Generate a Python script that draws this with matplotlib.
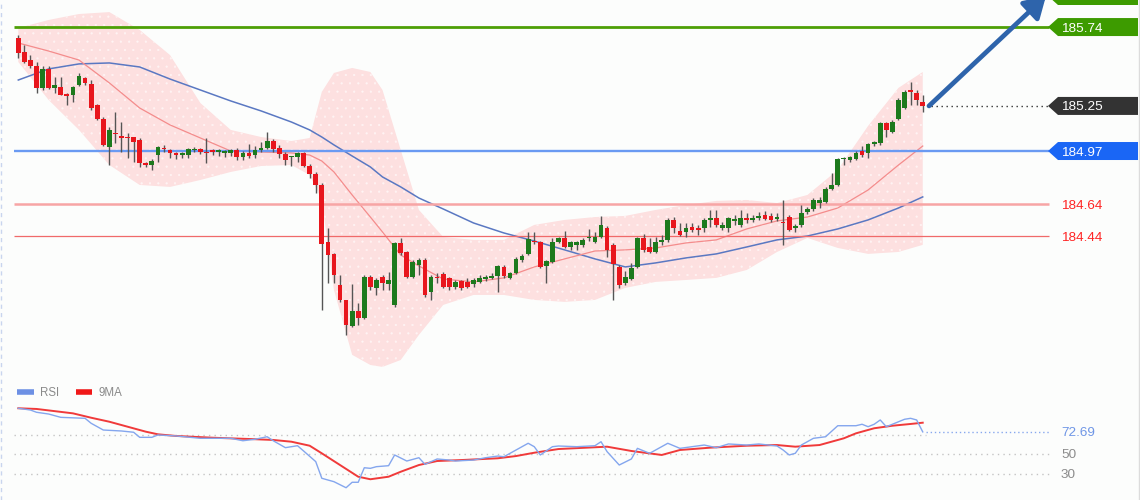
import matplotlib
matplotlib.use("Agg")
import matplotlib.pyplot as plt
from matplotlib.patches import Polygon
from matplotlib.lines import Line2D
import numpy as np

plt.rcParams['font.family'] = ['Liberation Sans', 'DejaVu Sans']
plt.rcParams['hatch.linewidth'] = 0.35

# ---------------- data ----------------
opens = [185.672, 185.585, 185.535, 185.498, 185.362, 185.480, 185.362, 185.368, 185.324, 185.318,
         185.380, 185.424, 185.386, 185.256, 185.169, 184.995, 185.082, 185.063, 185.057, 185.057,
         185.039, 184.896, 184.883, 184.945, 184.989, 184.977, 184.958, 184.945, 184.945, 184.977,
         184.983, 184.964, 184.977, 184.964, 184.958, 184.958, 184.977, 184.933, 184.958, 184.945,
         184.977, 184.989, 185.032, 184.989, 184.952, 184.933, 184.933, 184.958, 184.877, 184.828,
         184.759, 184.405, 184.331, 184.138, 184.045, 183.884, 183.977, 183.933, 184.188, 184.120,
         184.188, 184.144, 184.014, 184.399, 184.343, 184.188, 184.262, 184.293, 184.095, 184.188,
         184.206, 184.182, 184.126, 184.163, 184.157, 184.144, 184.157, 184.175, 184.182, 184.194,
         184.250, 184.182, 184.213, 184.293, 184.331, 184.411, 184.405, 184.256, 184.281, 184.405,
         184.430, 184.374, 184.387, 184.387, 184.430, 184.405, 184.436, 184.492, 184.387, 184.250,
         184.151, 184.175, 184.250, 184.430, 184.374, 184.343, 184.405, 184.418, 184.542, 184.474,
         184.467, 184.498, 184.492, 184.492, 184.542, 184.554, 184.492, 184.492, 184.536, 184.511,
         184.554, 184.542, 184.554, 184.573, 184.567, 184.548, 184.529, 184.560, 184.492, 184.511,
         184.592, 184.610, 184.647, 184.654, 184.734, 184.759, 184.921, 184.914, 184.921, 184.970,
         184.958, 185.014, 185.020, 185.144, 185.088, 185.169, 185.237, 185.349, 185.331, 185.275]
highs = [185.691, 185.629, 185.566, 185.523, 185.498, 185.498, 185.430, 185.430, 185.331, 185.374,
         185.455, 185.430, 185.411, 185.262, 185.181, 185.119, 185.212, 185.150, 185.082, 185.057,
         185.051, 184.902, 184.921, 185.001, 185.008, 184.983, 184.964, 184.964, 184.989, 184.995,
         184.989, 185.051, 184.983, 184.983, 184.977, 184.983, 184.989, 184.970, 185.014, 185.001,
         185.026, 185.088, 185.045, 185.008, 184.964, 184.939, 184.964, 184.964, 184.890, 184.840,
         184.772, 184.492, 184.337, 184.200, 184.045, 184.144, 184.026, 184.200, 184.200, 184.182,
         184.200, 184.219, 184.405, 184.430, 184.349, 184.293, 184.306, 184.306, 184.200, 184.213,
         184.219, 184.188, 184.169, 184.169, 184.182, 184.182, 184.200, 184.200, 184.213, 184.262,
         184.262, 184.219, 184.312, 184.331, 184.467, 184.467, 184.411, 184.293, 184.430, 184.436,
         184.474, 184.411, 184.411, 184.430, 184.486, 184.467, 184.567, 184.505, 184.399, 184.262,
         184.225, 184.275, 184.436, 184.455, 184.430, 184.436, 184.449, 184.554, 184.560, 184.523,
         184.523, 184.523, 184.511, 184.554, 184.604, 184.604, 184.529, 184.560, 184.573, 184.604,
         184.585, 184.573, 184.592, 184.598, 184.585, 184.585, 184.666, 184.573, 184.517, 184.635,
         184.623, 184.678, 184.685, 184.747, 184.834, 184.927, 184.933, 184.939, 184.970, 185.001,
         185.020, 185.032, 185.150, 185.150, 185.163, 185.299, 185.349, 185.399, 185.349, 185.318]
lows = [185.548, 185.517, 185.486, 185.331, 185.349, 185.355, 185.331, 185.318, 185.256, 185.275,
        185.374, 185.380, 185.225, 185.163, 185.001, 184.883, 185.020, 184.964, 184.927, 184.902,
        184.871, 184.871, 184.852, 184.902, 184.964, 184.927, 184.921, 184.927, 184.927, 184.964,
        184.952, 184.896, 184.945, 184.939, 184.933, 184.939, 184.914, 184.914, 184.927, 184.927,
        184.964, 184.983, 184.964, 184.927, 184.883, 184.877, 184.902, 184.871, 184.803, 184.710,
        183.983, 184.151, 184.151, 184.033, 183.828, 183.877, 183.890, 183.927, 184.107, 184.076,
        184.107, 184.107, 184.002, 184.324, 184.182, 184.182, 184.200, 184.064, 184.045, 184.151,
        184.120, 184.107, 184.113, 184.107, 184.120, 184.126, 184.151, 184.163, 184.175, 184.095,
        184.182, 184.175, 184.206, 184.281, 184.324, 184.393, 184.244, 184.151, 184.275, 184.399,
        184.368, 184.356, 184.356, 184.374, 184.411, 184.399, 184.430, 184.312, 184.045, 184.120,
        184.138, 184.169, 184.244, 184.343, 184.337, 184.337, 184.387, 184.405, 184.461, 184.442,
        184.436, 184.467, 184.449, 184.467, 184.498, 184.498, 184.480, 184.467, 184.511, 184.498,
        184.523, 184.529, 184.542, 184.542, 184.529, 184.536, 184.387, 184.474, 184.467, 184.498,
        184.579, 184.598, 184.616, 184.647, 184.728, 184.753, 184.883, 184.902, 184.914, 184.933,
        184.927, 185.001, 185.008, 185.057, 185.082, 185.163, 185.231, 185.256, 185.256, 185.212]
closes = [185.579, 185.523, 185.498, 185.362, 185.480, 185.362, 185.380, 185.318, 185.312, 185.368,
          185.436, 185.393, 185.237, 185.169, 185.008, 185.101, 185.076, 185.051, 185.051, 185.026,
          184.896, 184.883, 184.908, 184.995, 184.983, 184.958, 184.945, 184.958, 184.983, 184.983,
          184.964, 184.958, 184.964, 184.977, 184.970, 184.977, 184.933, 184.958, 184.939, 184.977,
          184.989, 185.032, 184.983, 184.952, 184.914, 184.939, 184.958, 184.877, 184.828, 184.759,
          184.393, 184.324, 184.200, 184.045, 183.890, 183.977, 183.933, 184.188, 184.126, 184.169,
          184.151, 184.169, 184.399, 184.337, 184.188, 184.281, 184.293, 184.076, 184.188, 184.182,
          184.126, 184.126, 184.157, 184.120, 184.126, 184.169, 184.182, 184.188, 184.194, 184.256,
          184.194, 184.213, 184.300, 184.318, 184.424, 184.405, 184.250, 184.287, 184.405, 184.430,
          184.374, 184.405, 184.405, 184.418, 184.436, 184.436, 184.511, 184.356, 184.269, 184.138,
          184.188, 184.244, 184.430, 184.356, 184.343, 184.405, 184.418, 184.542, 184.492, 184.449,
          184.492, 184.480, 184.480, 184.542, 184.554, 184.511, 184.511, 184.554, 184.548, 184.554,
          184.542, 184.554, 184.567, 184.548, 184.542, 184.560, 184.523, 184.480, 184.505, 184.585,
          184.610, 184.666, 184.666, 184.734, 184.759, 184.921, 184.927, 184.933, 184.958, 184.945,
          185.014, 185.026, 185.144, 185.101, 185.150, 185.287, 185.337, 185.337, 185.287, 185.250]

# overlay samples (candle index -> value)
band_idx = [0, 5, 10, 15, 20, 25, 30, 35, 40, 45, 48, 50, 52, 55, 58, 60, 63, 66, 70, 75,
            80, 85, 90, 95, 100, 105, 110, 115, 120, 125, 130, 135, 140, 145, 149]
band_upper = [185.734, 185.784, 185.821, 185.833, 185.722, 185.566, 185.268, 185.101, 185.057, 185.032,
              185.051, 185.337, 185.455, 185.486, 185.461, 185.349, 184.977, 184.604, 184.436, 184.418,
              184.418, 184.511, 184.542, 184.560, 184.567, 184.604, 184.635, 184.660, 184.666, 184.647,
              184.697, 184.852, 185.126, 185.362, 185.461]
band_lower = [185.523, 185.287, 185.101, 184.883, 184.759, 184.747, 184.790, 184.840, 184.877, 184.883,
              184.821, 184.666, 184.107, 183.704, 183.641, 183.629, 183.672, 183.828, 184.014, 184.076,
              184.076, 184.045, 184.033, 184.045, 184.120, 184.157, 184.169, 184.182, 184.231, 184.343,
              184.430, 184.368, 184.331, 184.343, 184.387]
ma_red = [185.641, 185.591, 185.535, 185.393, 185.237, 185.132, 185.051, 184.970, 184.964, 184.958,
          184.945, 184.908, 184.840, 184.697, 184.560, 184.467, 184.324, 184.256, 184.175, 184.157,
          184.182, 184.250, 184.300, 184.349, 184.356, 184.368, 184.399, 184.418, 184.486, 184.536,
          184.560, 184.616, 184.728, 184.883, 185.001]
ma_blue = [185.411, 185.480, 185.511, 185.517, 185.492, 185.417, 185.349, 185.281, 185.219, 185.150,
           185.101, 185.057, 185.008, 184.939, 184.871, 184.809, 184.747, 184.678, 184.610, 184.523,
           184.461, 184.411, 184.356, 184.300, 184.250, 184.275, 184.306, 184.331, 184.374, 184.418,
           184.442, 184.486, 184.542, 184.616, 184.685]

level_target = 185.74
level_last = 185.25
level_pivot = 184.97
levels_support = [184.64, 184.44]

rsi_idx = [0, 2, 3, 5, 7, 11, 12, 14, 17, 19, 20, 22, 23, 26, 30, 32, 35, 37, 39, 41, 42, 44, 46, 47,
           49, 50, 52, 54, 55, 56, 57, 58, 59, 61, 62, 64, 66, 67, 69, 71, 72, 75, 77, 79, 80, 82,
           84, 85, 86, 88, 89, 92, 95, 96, 97, 99, 101, 102, 104, 105, 107, 109, 111, 113, 115, 117,
           120, 122, 125, 126, 127, 128, 129, 131, 133, 135, 138, 139, 140, 141, 142, 143, 144, 146,
           147, 148, 149]
rsi_val = [96.9, 95.1, 92.8, 91.0, 87.6, 86.6, 81.5, 74.6, 73.6, 72.3, 67.1, 67.1, 69.5, 68.5, 66.1,
           66.1, 66.1, 63.6, 65.1, 67.7, 63.6, 56.5, 58.5, 53.1, 42.2, 25.1, 21.6, 15.4, 21.0, 21.0,
           35.9, 35.3, 37.0, 38.0, 49.0, 42.8, 46.2, 39.4, 44.9, 43.8, 42.8, 43.8, 46.2, 47.9, 47.2,
           54.1, 61.0, 57.5, 49.0, 57.5, 58.2, 57.5, 58.5, 62.6, 52.4, 38.7, 44.9, 55.8, 50.7, 54.1,
           61.0, 55.8, 57.5, 59.2, 56.5, 60.3, 59.2, 60.3, 58.2, 54.1, 49.0, 50.7, 59.2, 66.1, 67.7,
           79.0, 79.0, 80.5, 78.0, 80.5, 84.9, 78.0, 80.5, 85.6, 86.6, 84.9, 72.69]
ma9_idx = [0, 3, 9, 12, 15, 18, 21, 23, 26, 32, 38, 42, 45, 48, 50, 53, 56, 58, 61, 63, 66, 69,
           73, 79, 82, 85, 89, 97, 101, 106, 109, 114, 120, 125, 128, 132, 136, 138, 141, 144, 147, 149]
ma9_val = [96.9, 96.2, 91.7, 87.2, 83.1, 78.0, 72.9, 70.2, 68.5, 66.7, 65.4, 64.4, 62.6, 58.5,
           50.7, 38.7, 26.7, 24.1, 26.7, 31.8, 38.7, 42.8, 43.8, 45.6, 47.9, 51.3, 55.1, 57.5,
           53.1, 49.0, 54.1, 56.5, 58.5, 59.2, 57.5, 59.2, 66.1, 71.2, 76.4, 79.0, 80.8, 82.1]
rsi_last = 72.69
rsi_grid = [70, 50, 30]
rsi_labels = ['50', '30']

# ---------------- layout (pixels) ----------------
W, H = 1140, 500
X0, DX = 18.3, 6.07           # pixel x of first candle, candle spacing
PRICE_TOP, PX_PER_UNIT = 185.908, 161.0
MAIN_H = 375
RSI50_PX, RSI_PX_PER_UNIT = 454.0, 0.975
pp = 1.0 / PX_PER_UNIT


def px2i(px):
    return (px - X0) / DX


def price_at(py):
    return PRICE_TOP - py * pp


BG = '#fcfdfc'
fig = plt.figure(figsize=(W / 100, H / 100), dpi=100)
fig.patch.set_facecolor(BG)

ax = fig.add_axes([0, (H - MAIN_H) / H, 1, MAIN_H / H])
ax.set_xlim(px2i(0), px2i(W))
ax.set_ylim(price_at(MAIN_H), PRICE_TOP)
ax.axis('off')

# Bollinger band
ax.fill_between(band_idx, band_lower, band_upper, facecolor='#fde0e0', edgecolor='#fff4f4',
                hatch='..', linewidth=0, zorder=1)
ax.plot(band_idx, ma_blue, color='#5a78c2', lw=1.1, zorder=2)
ax.plot(band_idx, ma_red, color='#f48c8c', lw=0.9, zorder=2)

# levels
xl, xr = px2i(14), px2i(1049)
ax.hlines(level_target, xl, xr, color='#4d9f06', lw=2.0, zorder=2.5)
ax.hlines(level_pivot, xl, xr, color='#6a9af2', lw=1.7, zorder=2.5)
ax.hlines(levels_support[0], xl, xr, color='#f7a5a5', lw=1.8, zorder=2.5)
ax.hlines(levels_support[1], xl, xr, color='#f06a6a', lw=0.9, zorder=2.5)

# candles
o, h, l, c = map(np.array, (opens, highs, lows, closes))
idx = np.arange(len(o))
up = c >= o
ax.vlines(idx, l, h, color='#555555', lw=1.0, zorder=3)
bottom = np.minimum(o, c)
height = np.maximum(np.abs(c - o), 1.3 * pp)
ax.bar(idx, height, bottom=bottom, width=0.78,
       color=np.where(up, '#1d7a1d', '#e8161d'), linewidth=0, zorder=4)

# last price dotted line
ax.hlines(level_last, px2i(931), xr, colors='#333333', linestyles=(0, (1, 2.6)), lw=1.0, zorder=5)

# arrow
ax.annotate('', xy=(px2i(1046), price_at(-4)), xytext=(px2i(929), level_last),
            arrowprops=dict(arrowstyle='-|>,head_length=0.9,head_width=0.55', color='#2e64ab',
                            lw=3.4, shrinkA=0, shrinkB=0, mutation_scale=14),
            annotation_clip=False, zorder=8)


def tag(price, color, text=None):
    hh = 9.0 * pp
    xs = [px2i(1048), px2i(1058), px2i(1138), px2i(1138), px2i(1058)]
    ys = [price, price + hh, price + hh, price - hh, price - hh]
    ax.add_patch(Polygon(list(zip(xs, ys)), closed=True, facecolor=color, edgecolor='none',
                         zorder=9, clip_on=False))
    if text:
        ax.text(px2i(1061), price, text, color='white', fontsize=9.7, va='center_baseline',
                ha='left', zorder=10)


tag(price_at(-4), '#3d9b00')
tag(level_target, '#3d9b00', f'{level_target:.2f}')
tag(level_last, '#333333', f'{level_last:.2f}')
tag(level_pivot, '#1a66f5', f'{level_pivot:.2f}')
for lv in levels_support:
    ax.text(px2i(1061), lv, f'{lv:.2f}', color='#ff2424', fontsize=9.7,
            va='center_baseline', ha='left', zorder=10)

# ---------------- RSI panel ----------------
ax2 = fig.add_axes([0, 0, 1, (H - MAIN_H) / H])
ax2.set_xlim(px2i(0), px2i(W))


def rsi_at(py):
    return 50 + (RSI50_PX - py) / RSI_PX_PER_UNIT


ax2.set_ylim(rsi_at(H), rsi_at(MAIN_H))
ax2.axis('off')

ax2.hlines(rsi_grid[0], xl, px2i(926), colors='#c4c4c4', linestyles=(0, (1, 3)), lw=1.0, zorder=1)
ax2.hlines(rsi_grid[1:], xl, xr, colors='#c4c4c4', linestyles=(0, (1, 3)), lw=1.0, zorder=1)
ax2.hlines(rsi_last, px2i(926), xr, colors='#88a8ee', linestyles=(0, (1, 2)), lw=1.0, zorder=1)

ax2.plot(ma9_idx, ma9_val, color='#f03a3a', lw=1.4, zorder=2)
ax2.plot(rsi_idx, rsi_val, color='#84a6ee', lw=1.0, zorder=3)

ax2.text(px2i(1061), rsi_last, f'{rsi_last:.2f}', color='#6f96e6', fontsize=9.7,
         va='center_baseline', ha='left')
for lab in rsi_labels:
    ax2.text(px2i(1061), float(lab), lab, color='#8c8c8c', fontsize=9.7,
             va='center_baseline', ha='left')

# legend
ly = rsi_at(392)
ax2.plot([px2i(17), px2i(34)], [ly, ly], color='#6d90e4', lw=4, solid_capstyle='butt')
ax2.text(px2i(40), ly, 'RSI', color='#8a8a8a', fontsize=8.3, va='center_baseline', ha='left')
ax2.plot([px2i(76), px2i(92)], [ly, ly], color='#f01818', lw=4, solid_capstyle='butt')
ax2.text(px2i(99), ly, '9MA', color='#8a8a8a', fontsize=8.3, va='center_baseline', ha='left')

# frame edges
fig.add_artist(Line2D([1138.5 / W] * 2, [0, 1], transform=fig.transFigure, color='#dcdcdc', lw=1))
fig.add_artist(Line2D([1.0 / W] * 2, [0, 1], transform=fig.transFigure, color='#c9d5ee', lw=1,
                      linestyle=(0, (3, 3))))

fig.savefig('out.png', dpi=100, facecolor=BG)
